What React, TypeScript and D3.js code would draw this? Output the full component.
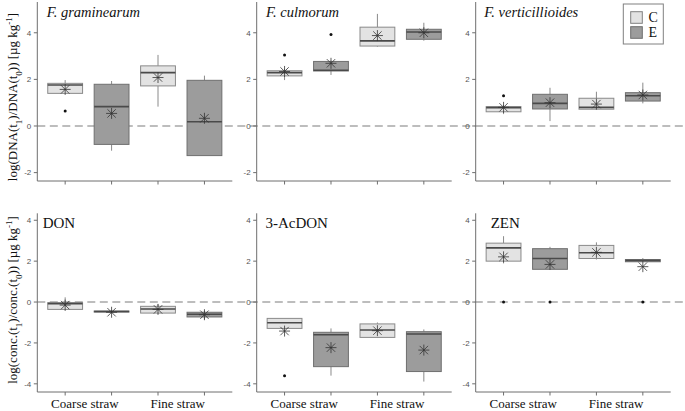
import React from "react";
import * as d3 from "d3";

// ---- data ----
// each box: [lowerWhisker, q1, median, q3, upperWhisker]
const groups = ["C", "E", "C", "E"];
const strawLabels = ["Coarse straw", "Fine straw"];
const topTicks = [-2, 0, 2, 4];
const bottomTicks = [-4, -2, 0, 2, 4];

const graminearumBoxes = [
  [1.4, 1.4, 1.76, 1.83, 1.97],
  [-1.06, -0.79, 0.83, 1.79, 1.93],
  [0.83, 1.72, 2.29, 2.58, 3.05],
  [-1.27, -1.27, 0.18, 1.96, 2.16],
];
const graminearumMeans = [1.57, 0.54, 2.08, 0.33];
const graminearumOutliers = [[0.64], [], [], []];

const culmorumBoxes = [
  [1.97, 2.15, 2.29, 2.37, 2.45],
  [2.19, 2.36, 2.39, 2.77, 2.8],
  [3.4, 3.43, 3.65, 4.24, 4.81],
  [3.66, 3.72, 4.03, 4.15, 4.43],
];
const culmorumMeans = [2.34, 2.69, 3.88, 4.0];
const culmorumOutliers = [[3.05], [3.93], [], []];

const verticillioidesBoxes = [
  [0.51, 0.61, 0.79, 0.83, 0.9],
  [0.21, 0.73, 0.97, 1.36, 1.64],
  [0.7, 0.72, 0.8, 1.19, 1.47],
  [0.97, 1.07, 1.3, 1.43, 1.86],
];
const verticillioidesMeans = [0.8, 1.0, 0.94, 1.33];
const verticillioidesOutliers = [[1.3], [], [], []];

const donBoxes = [
  [-0.42, -0.36, -0.08, -0.03, 0.23],
  [-0.5, -0.49, -0.46, -0.44, -0.42],
  [-0.57, -0.54, -0.34, -0.21, -0.11],
  [-0.85, -0.73, -0.6, -0.5, -0.42],
];
const donMeans = [-0.15, -0.5, -0.36, -0.62];
const donOutliers = [[], [], [], []];

const acdonBoxes = [
  [-1.29, -1.29, -1.01, -0.8, -0.8],
  [-3.6, -3.16, -1.6, -1.48, -1.29],
  [-1.76, -1.73, -1.37, -1.07, -1.0],
  [-3.89, -3.4, -1.56, -1.45, -1.34],
];
const acdonMeans = [-1.42, -2.23, -1.4, -2.35];
const acdonOutliers = [[-3.6], [], [], []];

const zenBoxes = [
  [1.89, 2.0, 2.65, 2.88, 3.22],
  [1.6, 1.6, 2.13, 2.61, 2.7],
  [2.08, 2.13, 2.41, 2.77, 2.92],
  [1.97, 1.97, 2.03, 2.08, 2.15],
];
const zenMeans = [2.21, 1.84, 2.43, 1.73];
const zenOutliers = [[0], [0], [], [0]];

// ---- layout ----
const W = 685;
const H = 411;
const panelLefts = [37.3, 256.7, 475.7];
const panelW = 195;
const fillC = "#e3e3e3";
const fillE = "#9c9c9c";
const serif = "'Liberation Serif', 'Times New Roman', serif";
const sans = "'Liberation Sans', Arial, sans-serif";

type PanelDef = {
  title: string;
  italic: boolean;
  boxes: number[][];
  means: number[];
  outliers: number[][];
  col: number;
  row: number;
  titleDx: number;
};

const panels: PanelDef[] = [
  { title: "F. graminearum", italic: true, boxes: graminearumBoxes, means: graminearumMeans, outliers: graminearumOutliers, col: 0, row: 0, titleDx: 9.4 },
  { title: "F. culmorum", italic: true, boxes: culmorumBoxes, means: culmorumMeans, outliers: culmorumOutliers, col: 1, row: 0, titleDx: 9.3 },
  { title: "F. verticillioides", italic: true, boxes: verticillioidesBoxes, means: verticillioidesMeans, outliers: verticillioidesOutliers, col: 2, row: 0, titleDx: 8.6 },
  { title: "DON", italic: false, boxes: donBoxes, means: donMeans, outliers: donOutliers, col: 0, row: 1, titleDx: 5.4 },
  { title: "3-AcDON", italic: false, boxes: acdonBoxes, means: acdonMeans, outliers: acdonOutliers, col: 1, row: 1, titleDx: 8.7 },
  { title: "ZEN", italic: false, boxes: zenBoxes, means: zenMeans, outliers: zenOutliers, col: 2, row: 1, titleDx: 15 },
];

const rows = [
  { y: d3.scaleLinear().domain([-2.36, 5.32]).range([181, 2]), ticks: topTicks, titleY: 17.3, bottom: 181 },
  { y: d3.scaleLinear().domain([-4.4, 4.34]).range([392, 213.3]), ticks: bottomTicks, titleY: 228, bottom: 392 },
];

function Asterisk({ cx, cy }: { cx: number; cy: number }) {
  const r = 5.5;
  const d = 4.2;
  return (
    <g stroke="#333" strokeWidth={0.8}>
      <line x1={cx - r} x2={cx + r} y1={cy} y2={cy} />
      <line x1={cx} x2={cx} y1={cy - r} y2={cy + r} />
      <line x1={cx - d} x2={cx + d} y1={cy - d} y2={cy + d} />
      <line x1={cx - d} x2={cx + d} y1={cy + d} y2={cy - d} />
    </g>
  );
}

function Panel({ p }: { p: PanelDef }) {
  const left = panelLefts[p.col];
  const row = rows[p.row];
  const y = row.y;
  const x = d3.scaleLinear().domain([0.4, 4.6]).range([left, left + panelW]);
  const bw = (x(1.375) - x(1)) * 2;
  const [y0, y1] = y.range();
  return (
    <g>
      {/* axes */}
      <line x1={left} x2={left} y1={y1} y2={y0} stroke="#6e6e6e" strokeWidth={1} />
      <line x1={left} x2={left + panelW} y1={y0} y2={y0} stroke="#6e6e6e" strokeWidth={1} />
      {row.ticks.map((t) => (
        <g key={t}>
          <line x1={left - 3.5} x2={left} y1={y(t)} y2={y(t)} stroke="#6e6e6e" />
          <text x={left - 6} y={y(t)} dy="0.35em" textAnchor="end" fontFamily={sans} fontSize={8} fill="#555">
            {t}
          </text>
        </g>
      ))}
      {groups.map((g, i) => (
        <line key={i} x1={x(i + 1)} x2={x(i + 1)} y1={y0} y2={y0 + 3.5} stroke="#6e6e6e" />
      ))}
      {/* boxes */}
      {p.boxes.map((b, i) => {
        const cx = x(i + 1);
        const isC = groups[i] === "C";
        const stroke = isC ? "#8a8a8a" : "#6f6f6f";
        return (
          <g key={i}>
            <line x1={cx} x2={cx} y1={y(b[0])} y2={y(b[1])} stroke="#8a8a8a" strokeWidth={1} />
            <line x1={cx} x2={cx} y1={y(b[3])} y2={y(b[4])} stroke="#8a8a8a" strokeWidth={1} />
            <rect
              x={cx - bw / 2}
              y={y(b[3])}
              width={bw}
              height={Math.max(1, y(b[1]) - y(b[3]))}
              fill={isC ? fillC : fillE}
              stroke={stroke}
              strokeWidth={1}
            />
            <line x1={cx - bw / 2} x2={cx + bw / 2} y1={y(b[2])} y2={y(b[2])} stroke="#4a4a4a" strokeWidth={1.6} />
            {p.outliers[i].map((o, k) => (
              <circle key={k} cx={cx} cy={y(o)} r={1.5} fill="#111" />
            ))}
            <Asterisk cx={cx} cy={y(p.means[i])} />
          </g>
        );
      })}
      <text
        x={left + p.titleDx}
        y={row.titleY}
        fontFamily={serif}
        fontSize={p.italic ? 14.5 : 15}
        fontStyle={p.italic ? "italic" : "normal"}
        fill="#111"
      >
        {p.title}
      </text>
      {p.row === 1 &&
        strawLabels.map((s, k) => (
          <text
            key={s}
            x={(x(2 * k + 1) + x(2 * k + 2)) / 2 - 3.5}
            y={408}
            textAnchor="middle"
            fontFamily={serif}
            fontSize={13}
            fill="#111"
          >
            {s}
          </text>
        ))}
    </g>
  );
}

export default function App() {
  return (
    <svg width={W} height={H} style={{ position: "absolute", left: 0, top: 0, background: "#fff" }}>
      <rect width={W} height={H} fill="#fff" />
      {/* zero reference lines */}
      {rows.map((r, i) => (
        <line
          key={i}
          x1={panelLefts[0]}
          x2={683}
          y1={r.y(0)}
          y2={r.y(0)}
          stroke="#a8a8a8"
          strokeWidth={1.4}
          strokeDasharray="8,4.5"
        />
      ))}
      {panels.map((p) => (
        <Panel key={p.title} p={p} />
      ))}
      {/* y axis titles */}
      <text transform="translate(17,97) rotate(-90)" textAnchor="middle" fontFamily={serif} fontSize={13} fill="#111">
        log(DNA(t<tspan baselineShift="sub" fontSize={9}>1</tspan>)/DNA(t<tspan baselineShift="sub" fontSize={9}>0</tspan>)) [µg kg<tspan baselineShift="super" fontSize={9}>-1</tspan>]
      </text>
      <text transform="translate(17,300) rotate(-90)" textAnchor="middle" fontFamily={serif} fontSize={13} fill="#111">
        log(conc.(t<tspan baselineShift="sub" fontSize={9}>1</tspan>)/conc.(t<tspan baselineShift="sub" fontSize={9}>0</tspan>)) [µg kg<tspan baselineShift="super" fontSize={9}>-1</tspan>]
      </text>
      {/* legend */}
      <g>
        <rect x={623.3} y={4} width={40} height={40} fill="#fff" stroke="#808080" strokeWidth={1} />
        <rect x={630.7} y={11.7} width={11.6} height={11.6} fill={fillC} stroke="#808080" />
        <rect x={630.7} y={26.7} width={11.6} height={11.6} fill={fillE} stroke="#6f6f6f" />
        <text x={648.5} y={17.5} dy="0.35em" fontFamily={serif} fontSize={14} fill="#111">C</text>
        <text x={648.5} y={32.5} dy="0.35em" fontFamily={serif} fontSize={14} fill="#111">E</text>
      </g>
    </svg>
  );
}
